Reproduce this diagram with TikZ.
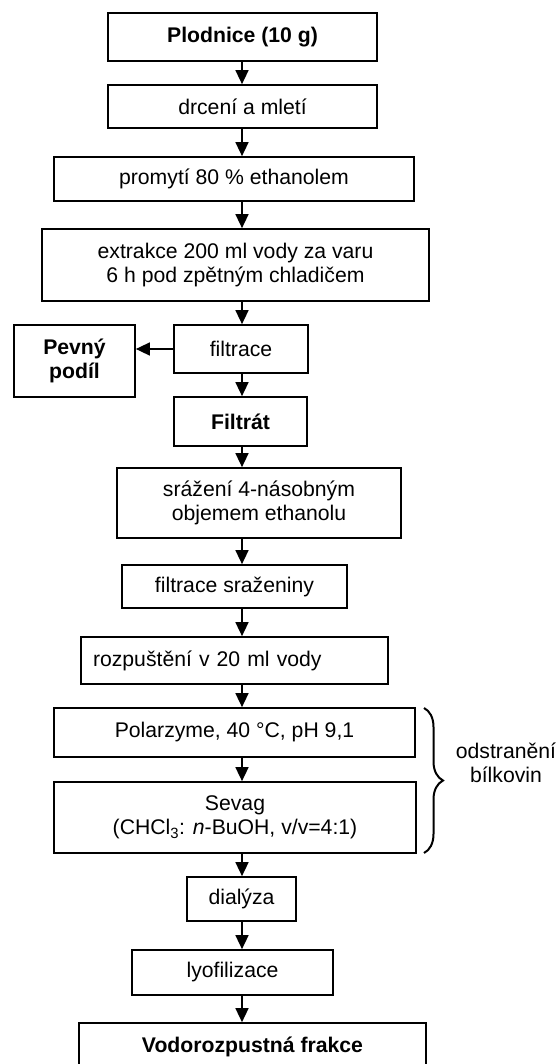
\documentclass[tikz,border=0pt]{standalone}
\usepackage{fontspec}
\setmainfont{Liberation Sans}
\usetikzlibrary{arrows.meta,decorations.pathreplacing}
\begin{document}
\begin{tikzpicture}[x=1pt,y=1pt,
  box/.style={draw=black, line width=1.7pt, inner sep=0pt, align=center,
    font=\fontsize{21.2}{24.5}\selectfont},
  arr/.style={line width=1.5pt, -{Triangle[width=13pt,length=14pt]}},
  brc/.style={line width=2pt, decorate, decoration={brace, amplitude=19pt}},
  lbl/.style={inner sep=0pt, align=center, font=\fontsize{21.2}{24.5}\selectfont}
]
\useasboundingbox (0,0) rectangle (559,-1064);
\coordinate (ax) at (242,0);

\node[box, minimum width=269pt, minimum height=48pt] (plod) at (242.5,-37) {\textbf{Plodnice (10 g)}};
\node[box, minimum width=269pt, minimum height=43pt] (drc) at (242.5,-106.5) {drcení a mletí};
\node[box, minimum width=360pt, minimum height=44pt] (prom) at (234,-179) {promytí 80 \% ethanolem};
\node[box, minimum width=387pt, minimum height=72pt] (extr) at (235.5,-265) {extrakce 200 ml vody za varu\\6 h pod zpětným chladičem};
\node[box, minimum width=134pt, minimum height=48pt] (filt) at (241,-349) {filtrace};
\node[box, minimum width=121pt, minimum height=72pt] (pevny) at (74.5,-361) {\textbf{Pevný}\\\textbf{podíl}};
\node[box, minimum width=133pt, minimum height=49pt] (filtrat) at (240.5,-421.5) {\textbf{Filtrát}};
\node[box, minimum width=284pt, minimum height=70pt] (sraz) at (259,-503) {srážení 4-násobným\\objemem ethanolu};
\node[box, minimum width=225pt, minimum height=43pt] (filsr) at (234.5,-586.5) {filtrace sraženiny};
\node[box, text width=283pt, align=left, inner xsep=12pt, minimum height=47pt] (rozp) at (234.5,-660.5) {rozpuštění v 20 ml vody};
\node[box, minimum width=361pt, minimum height=49pt] (polar) at (234.5,-732.5) {Polarzyme, 40 °C, pH 9,1};
\node[box, minimum width=362pt, minimum height=71pt] (sevag) at (235,-817.5) {Sevag\\(CHCl\textsubscript{3}: \textit{n}-BuOH, v/v=4:1)};
\node[box, minimum width=109pt, minimum height=44pt] (dial) at (241.5,-899) {dialýza};
\node[box, minimum width=201pt, minimum height=45pt] (lyof) at (232.5,-972.5) {lyofilizace};
\node[box, minimum width=347pt, minimum height=47pt] (vodo) at (252.5,-1046.5) {\textbf{Vodorozpustná frakce}};

\foreach \a/\b in {plod/drc, drc/prom, prom/extr, extr/filt, filt/filtrat, filtrat/sraz,
  sraz/filsr, filsr/rozp, rozp/polar, polar/sevag, sevag/dial, dial/lyof, lyof/vodo}
  \draw[arr] (\a.south -| ax) -- (\b.north -| ax);
\draw[arr] (filt.west) -- (pevny.east |- filt.west);

\coordinate (bt) at (424,-708);
\coordinate (bb) at (424,-853);
\draw[brc] (bt) -- (bb);
\node[lbl] (odst) at (506,-763) {odstranění\\bílkovin};
\end{tikzpicture}
\end{document}
